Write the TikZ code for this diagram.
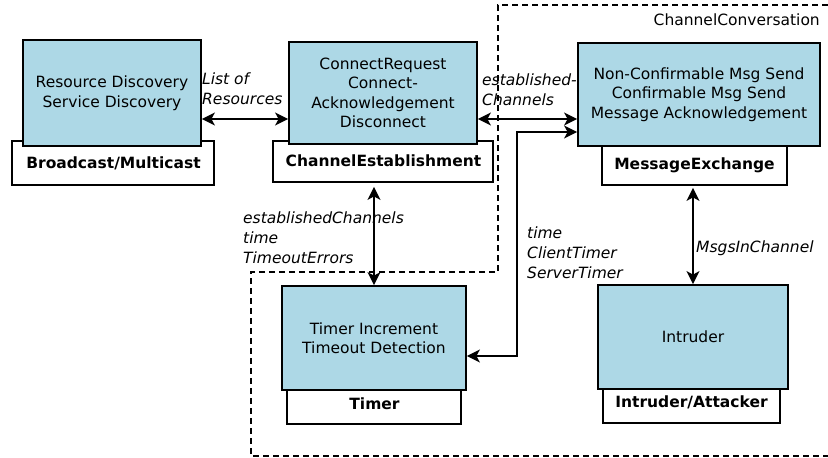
\documentclass[tikz,border=0pt]{standalone}
\usepackage{fontspec}
\setmainfont{DejaVu Sans}
\usetikzlibrary{arrows.meta}
\definecolor{boxblue}{HTML}{ADD8E6}
\begin{document}
\begin{tikzpicture}[x=1pt,y=-1pt,
 every node/.style={font=\fontsize{15.5}{19.5}\selectfont, inner sep=0pt},
 bluebox/.style={draw, line width=1.8pt, fill=boxblue, align=center},
 lblbox/.style={draw, line width=1.8pt, fill=white},
 lbltext/.style={font=\fontsize{15.5}{19.5}\selectfont\bfseries, anchor=base},
 itl/.style={font=\fontsize{15.5}{20}\selectfont\itshape, align=left, anchor=base west},
 arr/.style={line width=1.8pt, {Stealth[length=13pt,width=13pt,inset=3.5pt]}-{Stealth[length=13pt,width=13pt,inset=3.5pt]}},
 dsh/.style={line width=1.5pt, dash pattern=on 6pt off 4pt}]
\useasboundingbox (0,0) rectangle (828,458);
\fill[white] (0,0) rectangle (828,458);
% label boxes
\node[lblbox, minimum width=202pt, minimum height=44pt] (bml) at (113,163) {};
\node[lblbox, minimum width=220pt, minimum height=41pt] (cel) at (383,161.5) {};
\node[lblbox, minimum width=185pt, minimum height=44pt] (mel) at (694.5,163) {};
\node[lblbox, minimum width=174pt, minimum height=39pt] (tml) at (374,404.5) {};
\node[lblbox, minimum width=177pt, minimum height=39pt] (inl) at (691.5,403.5) {};
% blue boxes
\node[bluebox, minimum width=178pt, minimum height=106pt] (rd) at (112,93) {Resource Discovery\\Service Discovery};
\node[bluebox, minimum width=188pt, minimum height=102pt] (ce) at (383,93) {ConnectRequest\\Connect-\\Acknowledgement\\Disconnect};
\node[bluebox, minimum width=242pt, minimum height=103pt] (me) at (699,94.5) {Non-Confirmable Msg Send\\Confirmable Msg Send\\Message Acknowledgement};
\node[bluebox, minimum width=184pt, minimum height=104pt] (tm) at (374,338) {Timer Increment\\Timeout Detection};
\node[bluebox, minimum width=190pt, minimum height=104pt] (in) at (693,337) {Intruder};
% label texts
\node[lbltext] (bmt) at (113.5,168) {Broadcast/Multicast};
\node[lbltext] (cet) at (383.5,166) {ChannelEstablishment};
\node[lbltext] (met) at (694.5,169) {MessageExchange};
\node[lbltext] (tmt) at (374.5,409) {Timer};
\node[lbltext] (int) at (691.5,407) {Intruder/Attacker};
% dashed region
\draw[dsh] (828,5) -- (498,5) -- (498,272) -- (251,272) -- (251,456) -- (828,456);
\node[anchor=base east] (cc) at (820,25) {ChannelConversation};
% connectors
\draw[arr] (rd.east |- 0,119) -- (ce.west |- 0,119);
\draw[arr] (ce.east |- 0,119) -- (me.west |- 0,119);
\draw[arr] ([yshift=-4pt]cel.south -| tm.north) -- (tm.north);
\coordinate (bend) at (517,356);
\draw[arr] (tm.east |- bend) -- (bend) |- (me.west |- 0,132);
\draw[arr] ([yshift=-2pt]mel.south -| in.north) -- (in.north);
% connector labels
\node[itl] (lr) at (202,104) {List of\\Resources};
\node[itl] (ec) at (482,105) {established-\\Channels};
\node[itl] (ect) at (243,263) {establishedChannels\\time\\TimeoutErrors};
\node[itl] (tct) at (527,278) {time\\ClientTimer\\ServerTimer};
\node[itl] (mic) at (696,252) {MsgsInChannel};
\end{tikzpicture}
\end{document}
